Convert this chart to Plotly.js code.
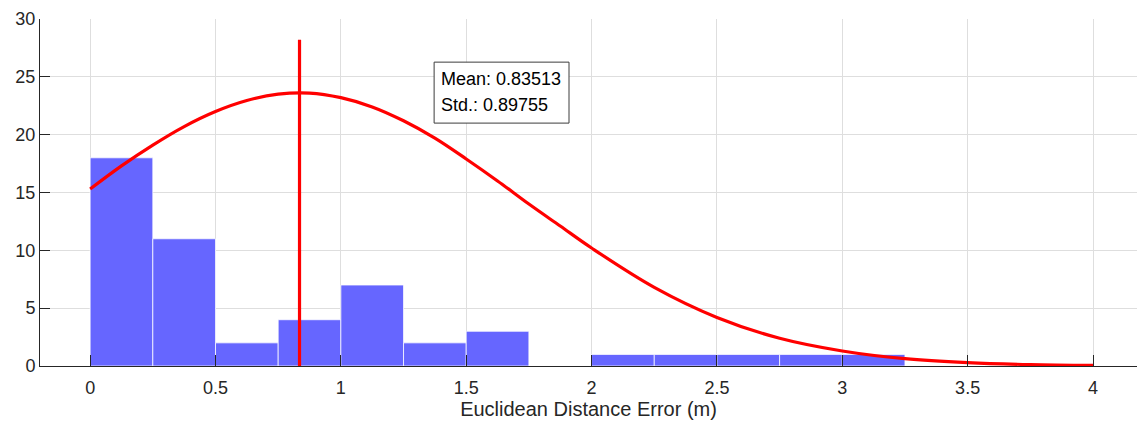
<!DOCTYPE html>
<html>
<head>
<meta charset="utf-8">
<script src="https://cdn.plot.ly/plotly-3.0.1.min.js"></script>
<style>html,body{margin:0;padding:0;background:#fff;}#chart{width:1137px;height:421px;}</style>
</head>
<body>
<div id="chart"></div>
<script>
// Histogram bins (width 0.25 m) and counts
const binCenters = [0.125, 0.375, 0.625, 0.875, 1.125, 1.375, 1.625, 1.875, 2.125, 2.375, 2.625, 2.875, 3.125];
const binCounts  = [18, 11, 2, 4, 7, 2, 3, 0, 1, 1, 1, 1, 1];
const binWidth = 0.25;

// Fitted normal curve
const curveX = [0, 0.125, 0.25, 0.375, 0.5, 0.625, 0.75, 0.875, 1.0, 1.125, 1.25, 1.375, 1.5, 1.625, 1.75, 1.875, 2.0, 2.25, 2.5, 2.75, 3.0, 3.25, 3.5, 3.75, 4.0];
const curveY = [15.3, 17.3, 19.1, 20.7, 22.0, 22.95, 23.5, 23.6, 23.2, 22.4, 21.2, 19.7, 17.9, 16.0, 14.0, 12.1, 10.2, 6.8, 4.2, 2.4, 1.3, 0.63, 0.29, 0.12, 0.05];

// Mean marker line
const meanX = [0.83513, 0.83513];
const meanY = [0, 28.2];

const statLines = ["Mean: 0.83513", "Std.: 0.89755"];
const xTicks = [0, 0.5, 1, 1.5, 2, 2.5, 3, 3.5, 4];
const xTickText = ["0", "0.5", "1", "1.5", "2", "2.5", "3", "3.5", "4"];
const yTicks = [0, 5, 10, 15, 20, 25, 30];

const textColor = "#262626";
const fontFam = "Liberation Sans, Arial, sans-serif";

const traces = [
  {
    type: "bar",
    x: binCenters,
    y: binCounts,
    width: binCenters.map(() => binWidth),
    marker: { color: "#6666ff", line: { color: "rgba(255,255,255,0.75)", width: 1 } },
    hoverinfo: "skip"
  },
  {
    type: "scatter", mode: "lines",
    x: curveX, y: curveY,
    line: { color: "#ff0000", width: 3.2, shape: "spline", smoothing: 1 },
    hoverinfo: "skip"
  },
  {
    type: "scatter", mode: "lines",
    x: meanX, y: meanY,
    line: { color: "#ff0000", width: 3.2 },
    hoverinfo: "skip"
  }
];

const layout = {
  width: 1137, height: 421,
  margin: { l: 40, r: 0, t: 19, b: 55 },
  paper_bgcolor: "#ffffff",
  plot_bgcolor: "#ffffff",
  showlegend: false,
  bargap: 0,
  font: { family: fontFam, color: textColor, size: 18 },
  xaxis: {
    range: [-0.2, 4.1755],
    tickvals: xTicks, ticktext: xTickText,
    ticks: "inside", ticklen: 11, tickcolor: textColor, tickwidth: 1,
    showline: true, linecolor: textColor, linewidth: 1,
    showgrid: true, gridcolor: "#dedede", gridwidth: 1,
    zeroline: false,
    ticklabelstandoff: 5,
    tickfont: { size: 18, color: textColor, family: fontFam },
    title: { text: "Euclidean Distance Error (m)", font: { size: 20, color: textColor, family: fontFam }, standoff: 4 },
    automargin: false
  },
  yaxis: {
    range: [0, 30],
    tickvals: yTicks,
    ticks: "inside", ticklen: 10, tickcolor: textColor, tickwidth: 1,
    showline: true, linecolor: textColor, linewidth: 1,
    showgrid: true, gridcolor: "#dedede", gridwidth: 1,
    zeroline: false,
    tickfont: { size: 18, color: textColor, family: fontFam },
    automargin: false
  },
  shapes: [
    {
      type: "rect", xref: "x", yref: "y",
      x0: 1.372, x1: 1.910, y0: 21.0, y1: 26.27,
      line: { color: "#3c3c3c", width: 1 },
      fillcolor: "#ffffff", layer: "above"
    }
  ],
  annotations: [
    {
      xref: "x", yref: "y", x: 1.392, y: 24.85, xanchor: "left", yanchor: "middle",
      text: statLines[0], showarrow: false,
      font: { size: 18, color: "#000000", family: fontFam }
    },
    {
      xref: "x", yref: "y", x: 1.392, y: 22.6, xanchor: "left", yanchor: "middle",
      text: statLines[1], showarrow: false,
      font: { size: 18, color: "#000000", family: fontFam }
    }
  ]
};

Plotly.newPlot("chart", traces, layout, { staticPlot: true, displayModeBar: false });
</script>
</body>
</html>
